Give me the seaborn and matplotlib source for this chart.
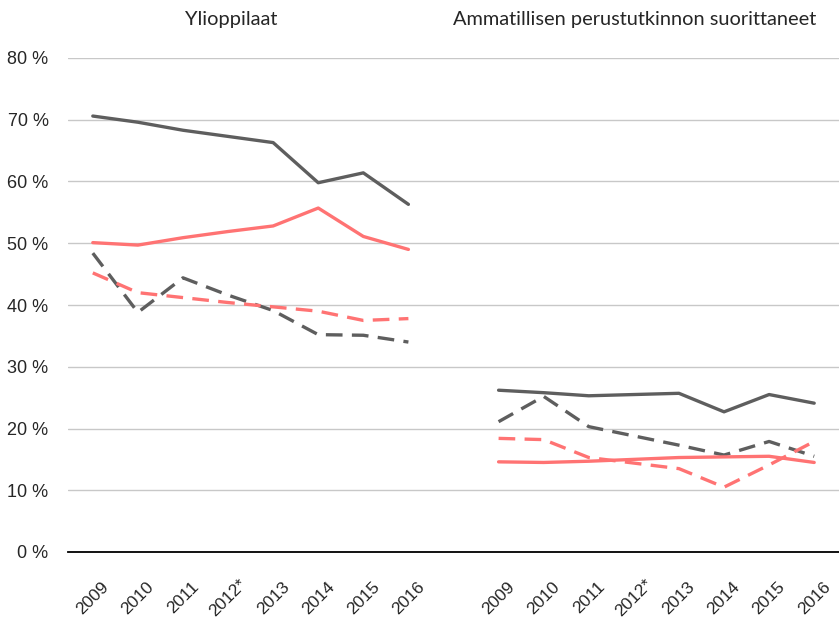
import numpy as np
import pandas as pd
import matplotlib
matplotlib.use("Agg")
import matplotlib.pyplot as plt
import seaborn as sns

# --- Daten ---
years = ["2009", "2010", "2011", "2012*", "2013", "2014", "2015", "2016"]
groups = ["Ylioppilaat", "Ammatillisen perustutkinnon suorittaneet"]

# Ylioppilaat
yo_gray_solid = [70.6, 69.6, 68.3, 67.3, 66.3, 59.8, 61.4, 56.3]
yo_pink_solid = [50.1, 49.7, 50.9, 51.9, 52.8, 55.7, 51.1, 49.0]
yo_gray_dash = [48.4, 38.8, 44.4, 41.6, 39.1, 35.2, 35.1, 34.0]
yo_pink_dash = [45.2, 42.0, 41.2, 40.4, 39.7, 39.0, 37.5, 37.8]

# Ammatillinen perustutkinto
am_gray_solid = [26.2, 25.8, 25.3, 25.5, 25.7, 22.7, 25.5, 24.1]
am_pink_solid = [14.6, 14.5, 14.7, 15.0, 15.3, 15.4, 15.5, 14.5]
am_gray_dash = [21.1, 25.2, 20.3, 18.8, 17.3, 15.7, 17.9, 15.5]
am_pink_dash = [18.4, 18.2, 15.3, 14.4, 13.5, 10.5, 14.1, 17.9]

series = {
    (0, "gray", "solid"): yo_gray_solid,
    (0, "pink", "solid"): yo_pink_solid,
    (0, "gray", "dash"): yo_gray_dash,
    (0, "pink", "dash"): yo_pink_dash,
    (1, "gray", "solid"): am_gray_solid,
    (1, "pink", "solid"): am_pink_solid,
    (1, "gray", "dash"): am_gray_dash,
    (1, "pink", "dash"): am_pink_dash,
}

rows = []
for (g, col, sty), vals in series.items():
    for i, v in enumerate(vals):
        rows.append({"group": g, "pos": g * (len(years) + 1) + i,
                     "farbe": col, "stil": sty, "wert": v})
df = pd.DataFrame(rows)

palette = {"gray": "#5e5e5e", "pink": "#ff7373"}
dashes = {"solid": "", "dash": (5, 2.8)}

# --- Plot ---
sns.set_style("white")
plt.rcParams["font.family"] = ["Liberation Sans", "DejaVu Sans"]

fig = plt.figure(figsize=(8.39, 6.23), dpi=100)
ax = fig.add_axes([68 / 839, 71 / 623, 771 / 839, 494 / 623])

for g in [0, 1]:
    sub = df[df["group"] == g]
    sns.lineplot(data=sub, x="pos", y="wert", hue="farbe", style="stil",
                 palette=palette, dashes=dashes, linewidth=2.4,
                 legend=False, ax=ax)

ax.set_ylim(0, 80)
ax.set_xlim(-0.55, 16.55)
ax.set_yticks(np.arange(0, 81, 10))
ax.set_yticklabels([f"{v} %" for v in range(0, 81, 10)], fontsize=13)
ax.yaxis.grid(True, color="#c8c8c8", linewidth=1)
ax.set_axisbelow(True)

xpos = list(range(len(years))) + [len(years) + 1 + i for i in range(len(years))]
ax.set_xticks(xpos)
ax.set_xticklabels(years + years, rotation=45, fontsize=12.5,
                   ha="center", va="center")
ax.tick_params(axis="x", length=0, pad=33)
ax.tick_params(axis="y", length=0, pad=14)

ax.set_xlabel("")
ax.set_ylabel("")
for s in ["left", "right", "top"]:
    ax.spines[s].set_visible(False)
ax.spines["bottom"].set_color("black")
ax.spines["bottom"].set_linewidth(1.3)

ax.text(3.07, 1.077, groups[0], transform=ax.get_xaxis_transform(),
        ha="center", va="center", fontsize=14.4, family=["Lato", "DejaVu Sans"])
ax.text(12.02, 1.077, groups[1], transform=ax.get_xaxis_transform(),
        ha="center", va="center", fontsize=14.4, family=["Lato", "DejaVu Sans"])

fig.savefig("out.png", dpi=100)
